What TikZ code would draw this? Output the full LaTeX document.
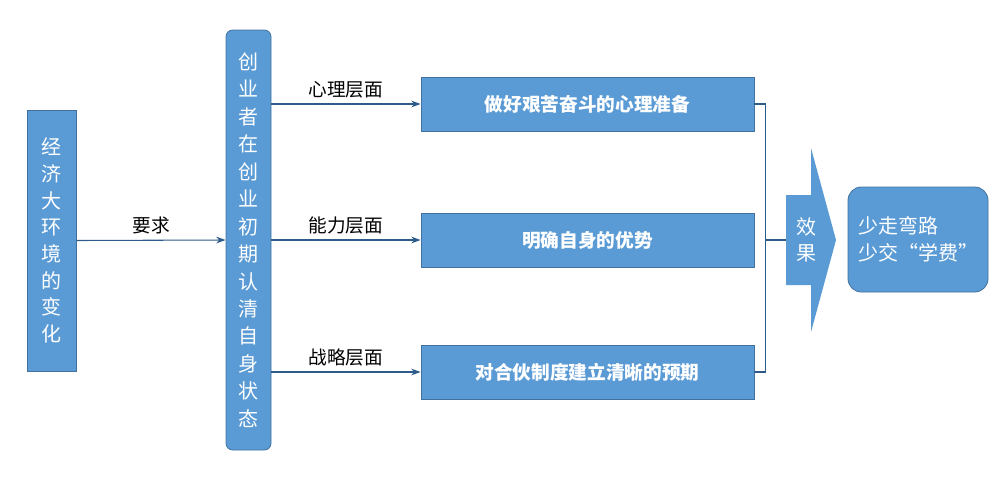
\documentclass[tikz,border=0pt]{standalone}
\usepackage{fontspec}
\setmainfont{Noto Sans CJK SC}
\usetikzlibrary{arrows.meta}
\definecolor{bf}{HTML}{5B9BD5}
\definecolor{bd}{HTML}{41719C}
\definecolor{ln}{HTML}{2E5C8A}
\begin{document}
\begin{tikzpicture}[x=0.75pt,y=-0.75pt,
  box/.style={fill=bf,draw=bd,line width=0.6pt,text=white,inner sep=0pt},
  con/.style={draw=ln,line width=0.8pt,-{Stealth[length=7pt,width=5pt]}},
  lab/.style={font=\fontsize{14pt}{16pt}\selectfont,text=black}]
\useasboundingbox (0,0) rectangle (1005,479);
\node[box,minimum width=49*0.75pt,minimum height=261*0.75pt,align=center,font=\fontsize{15pt}{20pt}\selectfont] (env) at (51.5,240.5) {经\\济\\大\\环\\境\\的\\变\\化};
\node[box,rounded corners=5pt,minimum width=45*0.75pt,minimum height=420*0.75pt,align=center,font=\fontsize{15pt}{20.6pt}\selectfont] (st) at (248.5,240) {创\\业\\者\\在\\创\\业\\初\\期\\认\\清\\自\\身\\状\\态};
\foreach \n/\y/\t in {a/104/做好艰苦奋斗的心理准备,b/240/明确自身的优势,c/372/对合伙制度建立清晰的预期}{
  \node[box,minimum width=333*0.75pt,minimum height=54*0.75pt,font=\fontsize{14pt}{16pt}\selectfont\bfseries] (\n) at (587.5,\y) {\t};
}
\coordinate (sa) at (271,104); \coordinate (sb) at (271,240); \coordinate (sc) at (271,372);
\draw[con] (sa) -- node[lab,above=1pt]{心理层面} (a.west);
\draw[con] (sb) -- node[lab,above=1pt]{能力层面} (b.west);
\draw[con] (sc) -- node[lab,above=1pt]{战略层面} (c.west);
\draw[con] (env.east) -- node[lab,above=1pt]{要求} (st.west);
\fill[bf] (786,195) -- (811,195) -- (811,148) -- (836,240) -- (811,332) -- (811,285) -- (786,285) -- cycle;
\coordinate (effw) at (786,240);
\node[text=white,align=center,font=\fontsize{15pt}{20pt}\selectfont] (efft) at (806,240) {效\\果};
\draw[draw=ln,line width=0.8pt] (a.east) -- ++(11,0) |- (c.east);
\draw[draw=ln,line width=0.8pt] (765,240) -- (effw);
\node[box,rounded corners=10pt,minimum width=140*0.75pt,minimum height=105*0.75pt,align=left,font=\fontsize{15pt}{20pt}\selectfont] (res) at (918,239.5) {少走弯路\\少交“学费”};
\end{tikzpicture}
\end{document}
